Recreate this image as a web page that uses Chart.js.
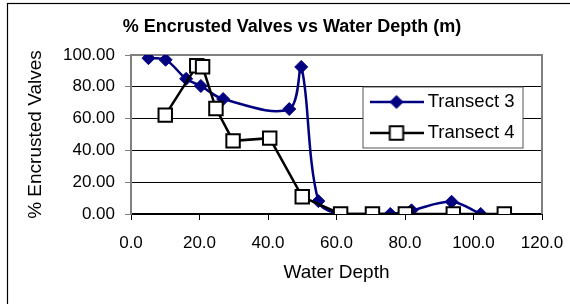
<!DOCTYPE html>
<html>
<head>
<meta charset="utf-8">
<script src="https://cdn.jsdelivr.net/npm/chart.js@4.4.0/dist/chart.umd.min.js"></script>
<style>
  html, body { margin: 0; padding: 0; background: #fff; }
  #wrap { position: relative; width: 570px; height: 304px; overflow: hidden; }
</style>
</head>
<body>
<div id="wrap"><canvas id="chart" width="570" height="304"></canvas></div>
<script>
// chart texts
var chartTitle = '% Encrusted Valves vs Water Depth (m)';
var xTitle = 'Water Depth';
var yTitle = '% Encrusted Valves';
var seriesNames = ['Transect 3', 'Transect 4'];

// Transect 3 (depth m, % encrusted)
var depth3 = [5.1, 10.1, 16.1, 20.4, 26.9, 46.2, 49.7, 54.7, 61.2, 75.7, 81.9, 93.6, 102.1];
var valves3 = [98.0, 97.0, 85.0, 80.5, 72.3, 66.0, 92.5, 8.1, 0.0, 0.0, 2.3, 7.7, 0.0];

// Transect 4
var depth4 = [10.0, 19.2, 20.9, 24.8, 29.8, 40.5, 50.0, 61.2, 70.5, 80.1, 94.1, 109.0];
var valves4 = [62.2, 93.2, 92.6, 66.3, 46.0, 47.7, 10.8, 0.0, 0.0, 0.0, 0.0, 0.0];

// axis ticks
var xTicks = [0, 20, 40, 60, 80, 100, 120];
var yTicks = [0, 20, 40, 60, 80, 100];

var FONT = "'Liberation Sans', Arial, sans-serif";
Chart.defaults.font.family = FONT;
Chart.defaults.color = '#000';

function toPoints(xs, ys) {
  return xs.map(function (x, i) { return { x: x, y: ys[i] }; });
}

// small line+marker picture for the legend (Excel style)
function legendSymbol(ds) {
  var c = document.createElement('canvas');
  c.width = 54; c.height = 18;
  var g = c.getContext('2d');
  g.strokeStyle = ds.borderColor;
  g.lineWidth = ds.borderWidth;
  g.beginPath(); g.moveTo(0, 9); g.lineTo(54, 9); g.stroke();
  g.fillStyle = ds.pointBackgroundColor;
  g.strokeStyle = ds.pointBorderColor;
  g.lineWidth = ds.pointBorderWidth;
  Chart.helpers.drawPoint(g, {
    pointStyle: ds.pointStyle, radius: ds.pointRadius,
    borderWidth: ds.pointBorderWidth, rotation: 0
  }, 27, 9);
  return c;
}

var excelLook = {
  id: 'excelLook',
  beforeDraw: function (chart) {
    var ctx = chart.ctx;
    ctx.save();
    ctx.strokeStyle = '#000';
    ctx.lineWidth = 1.2;
    ctx.strokeRect(7.5, 3.5, 640, 360);
    ctx.restore();
  },
  afterLayout: function (chart) {
    // legend sits inside the plot, near the upper right
    var lg = chart.legend;
    lg.left = 362; lg.top = 80.25;
    lg.width = 175; lg.height = 120;
    lg.right = lg.left + lg.width; lg.bottom = lg.top + lg.height;
  },
  beforeDatasetsDraw: function (chart) {
    var a = chart.chartArea, ctx = chart.ctx;
    ctx.save();
    ctx.strokeStyle = '#808080';
    ctx.lineWidth = 2;
    ctx.beginPath();
    ctx.moveTo(a.left, a.top);
    ctx.lineTo(a.right, a.top);
    ctx.lineTo(a.right, a.bottom);
    ctx.stroke();
    ctx.restore();
  },
  afterDatasetsDraw: function (chart) {
    var lg = chart.legend, ctx = chart.ctx;
    ctx.save();
    ctx.fillStyle = '#fff';
    ctx.fillRect(lg.left + 1, lg.top + 6.75, 160, 61);
    ctx.strokeStyle = '#555';
    ctx.lineWidth = 1;
    ctx.strokeRect(lg.left + 1, lg.top + 6.75, 160, 61);
    ctx.restore();
    lg.draw();
  }
};

var datasets = [
  {
    label: seriesNames[0],
    data: toPoints(depth3, valves3),
    showLine: true,
    borderColor: '#000080',
    backgroundColor: '#000080',
    borderWidth: 2.5,
    tension: 0.35,
    pointStyle: 'rectRot',
    pointRadius: 6.5,
    pointBackgroundColor: '#000080',
    pointBorderColor: '#000080',
    pointBorderWidth: 1,
    order: 2
  },
  {
    label: seriesNames[1],
    data: toPoints(depth4, valves4),
    showLine: true,
    borderColor: '#000',
    backgroundColor: '#fff',
    borderWidth: 2.5,
    tension: 0,
    pointStyle: 'rect',
    pointRadius: 9.5,
    pointBackgroundColor: '#fff',
    pointBorderColor: '#000',
    pointBorderWidth: 2,
    order: 1
  }
];

new Chart(document.getElementById('chart'), {
  type: 'scatter',
  data: { datasets: datasets },
  options: {
    responsive: false,
    animation: false,
    events: [],
    layout: { padding: { left: 14, right: 0, top: 0, bottom: 0 } },
    plugins: {
      tooltip: { enabled: false },
      title: {
        display: true,
        text: chartTitle,
        color: '#000',
        font: { size: 18, weight: 'bold', lineHeight: 1.2 },
        padding: { top: 16, bottom: 17.4 }
      },
      legend: {
        position: 'chartArea',
        align: 'start',
        labels: {
          usePointStyle: true,
          pointStyleWidth: 44,
          padding: 12.5,
          color: '#000',
          font: { size: 18.5 },
          generateLabels: function (chart) {
            return chart.data.datasets.map(function (ds, i) {
              return {
                text: ds.label,
                pointStyle: legendSymbol(ds),
                fillStyle: ds.pointBackgroundColor,
                strokeStyle: ds.borderColor,
                lineWidth: 0,
                hidden: false,
                datasetIndex: i
              };
            });
          }
        }
      }
    },
    scales: {
      x: {
        type: 'linear',
        min: xTicks[0],
        max: xTicks[xTicks.length - 1],
        afterFit: function (s) { s.height = 90; s.paddingRight = 28; },
        ticks: {
          stepSize: xTicks[1] - xTicks[0],
          padding: 13,
          font: { size: 17 },
          color: '#000',
          callback: function (v) { return v.toFixed(1); }
        },
        grid: { drawOnChartArea: false, drawTicks: true, tickLength: 6, color: '#000', lineWidth: 1 },
        border: { display: true, color: '#000', width: 2 },
        title: {
          display: true,
          text: xTitle,
          color: '#000',
          font: { size: 19, lineHeight: 1.2 },
          padding: { top: 0, bottom: 19.6 }
        }
      },
      y: {
        type: 'linear',
        min: yTicks[0],
        max: yTicks[yTicks.length - 1],
        afterFit: function (s) { s.width = 117; },
        ticks: {
          stepSize: yTicks[1] - yTicks[0],
          padding: 10,
          font: { size: 17 },
          color: '#000',
          callback: function (v) { return v.toFixed(2); }
        },
        grid: { color: '#000', lineWidth: 1, drawTicks: true, tickLength: 6, tickColor: '#808080' },
        border: { display: true, color: '#808080', width: 2 },
        title: {
          display: true,
          text: yTitle,
          color: '#000',
          font: { size: 19, lineHeight: 1.2 },
          padding: { top: 10.6, bottom: 0 }
        }
      }
    }
  },
  plugins: [excelLook]
});
</script>
</body>
</html>
